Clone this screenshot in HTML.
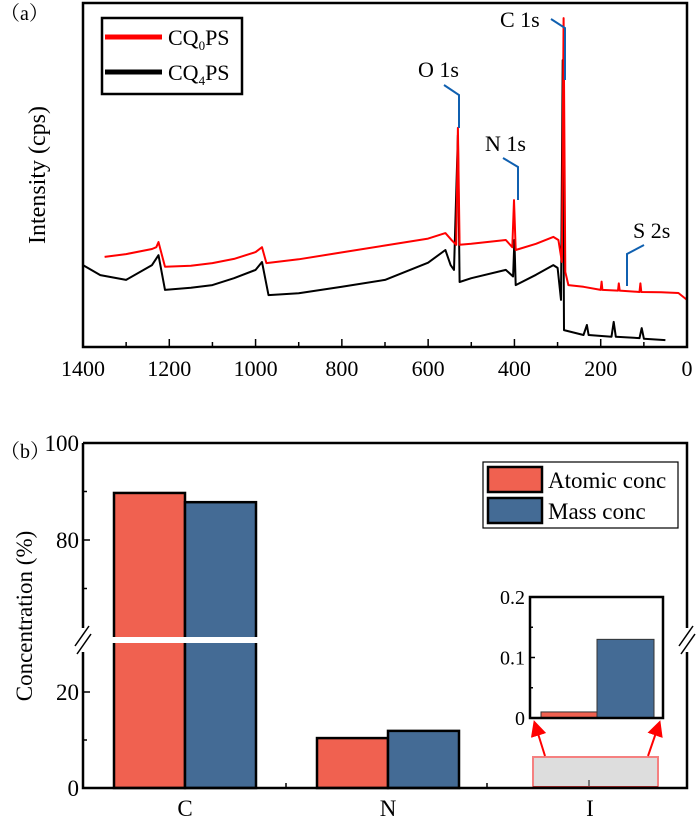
<!DOCTYPE html>
<html><head><meta charset="utf-8"><style>
html,body{margin:0;padding:0;background:#fff;}
svg{display:block;font-family:"Liberation Serif","Noto Serif CJK SC",serif;}
</style></head><body>
<svg id="fig" width="700" height="823" viewBox="0 0 700 823"></svg>
<script>
// ---- Panel (a) data ----
const xTicksA = [1400,1200,1000,800,600,400,200,0];
const redE = [1350,1300,1240,1230,1225,1210,1150,1100,1050,1000,985,975,900,800,700,600,560,545,535,531,527,500,420,405,401,397,350,310,298,290,286,282,275,240,200,198,196,160,158,156,110,108,106,60,20,0];
const redI = [26.2,27.0,28.5,29.0,30.5,23.3,23.6,24.4,25.6,27.6,29.0,24.4,25.5,27.5,29.5,31.5,33.1,31.0,29.7,63.7,29.7,30.0,31.1,29.0,42.7,28.2,30.0,32.0,31.1,24.7,95.6,21.8,18.0,17.5,16.6,19.0,16.6,16.4,18.5,16.4,16.0,18.5,16.0,15.9,15.7,13.7];
const blackE = [1400,1360,1300,1240,1225,1210,1150,1100,1050,1000,985,970,900,800,700,600,560,548,540,531,527,500,420,403,400,397,350,310,300,292,288,285,240,232,228,175,170,165,110,105,100,50];
const blackI = [23.8,20.9,19.5,23.8,26.7,16.6,17.2,18.0,20.0,22.4,24.7,15.1,15.6,17.5,19.5,24.5,28.2,23.8,22.4,61.6,18.9,20.0,22.4,20.5,31.1,18.0,21.0,23.8,23.0,13.7,83.4,4.9,3.5,6.4,3.5,3.0,7.3,3.0,2.6,5.5,2.4,2.0];
// ---- Panel (b) data ----
const categories = ["C","N","I"];
const atomicConc = [89.7,10.4,0.01];
const massConc = [87.8,11.9,0.13];
const yTicksLower = [0,20];
const yTicksUpper = [80,100];
const insetTicks = [0,0.1,0.2];

const NS="http://www.w3.org/2000/svg";
const svg=document.getElementById('fig');
function el(tag,attrs,parent,text){const e=document.createElementNS(NS,tag);for(const k in attrs)e.setAttribute(k,attrs[k]);if(text!==undefined)e.textContent=text;(parent||svg).appendChild(e);return e;}

// ===== Panel a =====
const AX0=83,AX1=687,AY0=3,AY1=347;
const xA=e=>AX0+(1400-e)/1400*(AX1-AX0);
const yA=i=>AY1-i*3.44;
const gA=el('g',{});


function linePath(E,I,color,name){
  let d=E.map((e,k)=>(k?'L':'M')+xA(e).toFixed(1)+' '+yA(I[k]).toFixed(1)).join(' ');
  const p=el('path',{d:d,fill:'none',stroke:color,'stroke-width':2,'stroke-linejoin':'round'},gA);
  
  
}
linePath(blackE,blackI,'#000','cq4ps-spectrum');
linePath(redE,redI,'#f00','cq0ps-spectrum');
const fa=el('rect',{x:AX0,y:AY0,width:AX1-AX0,height:AY1-AY0,fill:'none',stroke:'#000','stroke-width':2.5},gA);

for(let e=1400;e>=0;e-=100){
  const major=e%200===0;
  el('line',{x1:xA(e),x2:xA(e),y1:AY1,y2:AY1-(major?8:5),stroke:'#000','stroke-width':1.5},gA);
}
xTicksA.forEach(v=>{
  const t=el('text',{x:xA(v),y:376,'font-size':22,'text-anchor':'middle'},gA,String(v));
  
});
const yt=el('text',{x:0,y:0,'font-size':24,'text-anchor':'middle',transform:'translate(45,175) rotate(-90)'},gA,'Intensity (cps)');

const pa=el('text',{x:0,y:20,'font-size':20},gA,'（a）');

// legend
const lg=el('g',{},gA);
el('rect',{x:102,y:18,width:140,height:76,fill:'#fff',stroke:'#000','stroke-width':2.5},lg);
el('line',{x1:105,x2:162,y1:37,y2:37,stroke:'#f00','stroke-width':5},lg);
el('line',{x1:105,x2:162,y1:72,y2:72,stroke:'#000','stroke-width':5},lg);
const t1=el('text',{x:168,y:45,'font-size':22},lg);t1.innerHTML='CQ<tspan font-size="13" dy="5">0</tspan><tspan dy="-5">PS</tspan>';
const t2=el('text',{x:168,y:80,'font-size':22},lg);t2.innerHTML='CQ<tspan font-size="13" dy="5">4</tspan><tspan dy="-5">PS</tspan>';
// annotations
function annot(txt,tx,ty,pts,name){
  const g=el('g',{},gA);
  el('text',{x:tx,y:ty,'font-size':22},g,txt);
  el('polyline',{points:pts,fill:'none',stroke:'#1060b0','stroke-width':2},g);
}
annot('C 1s',500,27,'551,19 565,28 565,80','c1s-annotation');
annot('O 1s',418,77,'444,85 459,95 459,128','o1s-annotation');
annot('N 1s',485,151,'503,158 518,167 518,200','n1s-annotation');
annot('S 2s',633,238,'644,245 627,254 627,286','s2s-annotation');

// ===== Panel b =====
const BX0=83,BX1=687,BY0=443,BY1=788,BRK=640;
function yB(v){ return v<=31 ? BY1-v*4.8 : 540-(v-80)*4.85; }
const cx=[185,388,590];
const bw=71;
const gB=el('g',{});
const RED='#f06150',BLUE='#446b95';
categories.forEach((c,k)=>{
  if(k<2){
    const r1=el('rect',{x:cx[k]-bw,y:yB(atomicConc[k]),width:bw,height:BY1-yB(atomicConc[k]),fill:RED,stroke:'#000','stroke-width':2.5},gB);
    
    const r2=el('rect',{x:cx[k],y:yB(massConc[k]),width:bw,height:BY1-yB(massConc[k]),fill:BLUE,stroke:'#000','stroke-width':2.5},gB);
    
  }
  const lbl=el('text',{x:cx[k],y:816,'font-size':23,'text-anchor':'middle'},gB,c);
  
});
// break gap
el('rect',{x:110,y:BRK-3,width:150,height:6,fill:'#fff'},gB);
// highlight rect for I
const hl=el('rect',{x:533,y:757,width:125,height:31,fill:'#ddd',stroke:'#f58080','stroke-width':2},gB);

el('line',{x1:589,x2:589,y1:780,y2:788,stroke:'#555','stroke-width':1.5},gB);
el('rect',{x:533,y:786,width:125,height:2,fill:'#b03030'},gB);
// frame
const fb=el('path',{d:`M${BX0} ${BY0} H${BX1} V${BRK-12} M${BX1} ${BRK+12} V${BY1} H${BX0} V${BRK+12} M${BX0} ${BRK-12} V${BY0}`,fill:'none',stroke:'#000','stroke-width':2.5},gB);

[BX0,BX1].forEach(x=>{
  el('line',{x1:x-8,y1:BRK+6,x2:x+6,y2:BRK-14,stroke:'#000','stroke-width':1.5},gB);
  el('line',{x1:x-6,y1:BRK+14,x2:x+8,y2:BRK-6,stroke:'#000','stroke-width':1.5},gB);
});
yTicksLower.concat(yTicksUpper).forEach(v=>{
  el('line',{x1:BX0,x2:BX0+7,y1:yB(v),y2:yB(v),stroke:'#000','stroke-width':1.5},gB);
  const t=el('text',{x:BX0-4,y:yB(v)+8,'font-size':23,'text-anchor':'end'},gB,String(v));
  
});
[10,70,90].forEach(v=>el('line',{x1:BX0,x2:BX0+4,y1:yB(v),y2:yB(v),stroke:'#000','stroke-width':1.5},gB));
[286,487].forEach(x=>el('line',{x1:x,x2:x,y1:BY1,y2:BY1-5,stroke:'#000','stroke-width':1.5},gB));
const ytb=el('text',{x:0,y:0,'font-size':23,'text-anchor':'middle',transform:'translate(32,616) rotate(-90)'},gB,'Concentration (%)');

const pb=el('text',{x:0,y:458,'font-size':20},gB,'（b）');

// legend b
const lb=el('g',{},gB);
el('rect',{x:483,y:462,width:195,height:66,fill:'#fff',stroke:'#000','stroke-width':1.2},lb);
el('rect',{x:488,y:467,width:54,height:25,fill:RED,stroke:'#000','stroke-width':2.5},lb);
el('rect',{x:488,y:498,width:54,height:25,fill:BLUE,stroke:'#000','stroke-width':2.5},lb);
el('text',{x:548,y:488,'font-size':23},lb,'Atomic conc');
el('text',{x:548,y:519,'font-size':23},lb,'Mass conc');
// inset
const IX0=530,IX1=663,IY0=597,IY1=718;
const yI=v=>IY1-v/0.2*(IY1-IY0);
const gi=el('g',{},gB);
el('rect',{x:IX0,y:IY0,width:IX1-IX0,height:IY1-IY0,fill:'#fff'},gi);
const ia=el('rect',{x:541,y:yI(atomicConc[2]),width:56,height:IY1-yI(atomicConc[2]),fill:RED,stroke:'#333','stroke-width':1},gi);

const im=el('rect',{x:597,y:yI(massConc[2]),width:57,height:IY1-yI(massConc[2]),fill:BLUE,stroke:'#333','stroke-width':1},gi);

el('rect',{x:IX0,y:IY0,width:IX1-IX0,height:IY1-IY0,fill:'none',stroke:'#000','stroke-width':2.5},gi);
insetTicks.forEach(v=>{
  el('line',{x1:IX0,x2:IX0+5,y1:yI(v),y2:yI(v),stroke:'#000','stroke-width':1.5},gi);
  el('text',{x:IX0-5,y:yI(v)+7,'font-size':20,'text-anchor':'end'},gi,String(v));
});
[0.05,0.15].forEach(v=>el('line',{x1:IX0,x2:IX0+3,y1:yI(v),y2:yI(v),stroke:'#000','stroke-width':1.5},gi));
// arrows
el('defs',{}).innerHTML='<marker id="ah" markerWidth="8" markerHeight="8" refX="6" refY="4" orient="auto"><path d="M0,0 L8,4 L0,8 z" fill="#f00"/></marker>';
const a1=el('line',{x1:545,y1:756,x2:535,y2:724,stroke:'#f00','stroke-width':2,'marker-end':'url(#ah)'},gB);

const a2=el('line',{x1:648,y1:756,x2:659,y2:724,stroke:'#f00','stroke-width':2,'marker-end':'url(#ah)'},gB);

</script>
</body></html>
